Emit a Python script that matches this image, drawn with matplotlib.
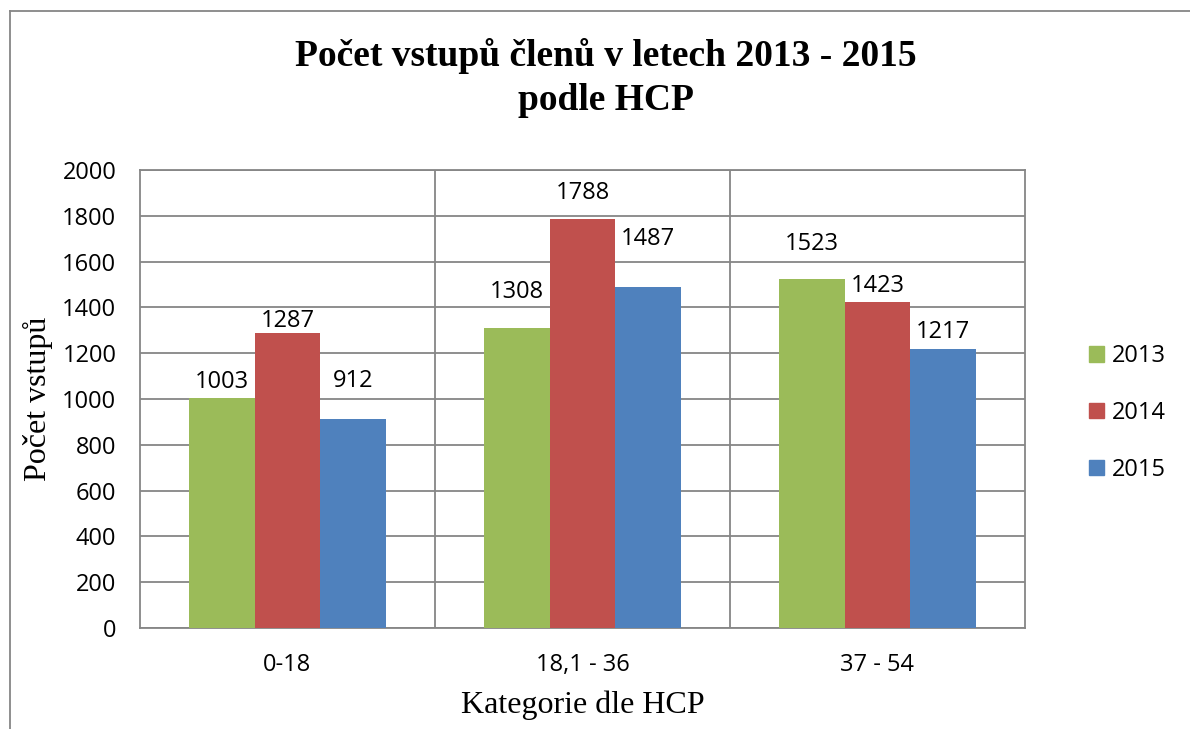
import numpy as np
import matplotlib
matplotlib.use("Agg")
import matplotlib.pyplot as plt
from matplotlib.lines import Line2D
from matplotlib.patches import Patch

categories = ["0-18", "18,1 - 36", "37 - 54"]
years = ["2013", "2014", "2015"]
values_2013 = [1003, 1308, 1523]
values_2014 = [1287, 1788, 1423]
values_2015 = [912, 1487, 1217]
y_ticks = [0, 200, 400, 600, 800, 1000, 1200, 1400, 1600, 1800, 2000]

colours = ["#9BBB59", "#C0504D", "#4F81BD"]
grid_colour = "#868686"
tick_font = "Open Sans"
serif_font = "Liberation Serif"

# label lift above bar top (pixels), as placed in the original chart
label_lift = [[16, 36, 35], [12, 26, 16], [38, 48, 17]]

fig = plt.figure(figsize=(11.9, 7.29), dpi=100)
W, H = 1190.0, 729.0
ax = fig.add_axes([140 / W, 1 - 628 / H, (1025 - 140) / W, (628 - 170) / H])

series = [values_2013, values_2014, values_2015]
x = np.arange(len(categories))
bar_w = 1.0 / 4.5
for i, vals in enumerate(series):
    pos = x + (i - 1) * bar_w
    ax.bar(pos, vals, width=bar_w, color=colours[i], zorder=3)
    for j, (px, v) in enumerate(zip(pos, vals)):
        ax.annotate(str(v), (px, v), xytext=(0, label_lift[i][j] * 0.72),
                    textcoords="offset points", ha="center", va="center",
                    fontsize=17, family=tick_font)

ax.set_xlim(-0.5, len(categories) - 0.5)
ax.set_ylim(0, 2000)
ax.set_yticks(y_ticks)
ax.set_yticklabels([str(t) for t in y_ticks], family=tick_font, fontsize=17)
ax.set_xticks(x)
ax.set_xticklabels(categories, family=tick_font, fontsize=17)
ax.tick_params(axis="both", length=0)
ax.tick_params(axis="y", pad=17)
ax.tick_params(axis="x", pad=18)

ax.yaxis.grid(True, color=grid_colour, linewidth=1.3, zorder=0)
for b in x[:-1] + 0.5:
    ax.axvline(b, color=grid_colour, linewidth=1.3, zorder=0)
for s in ax.spines.values():
    s.set_color(grid_colour)
    s.set_linewidth(1.3)

ax.set_ylabel("Počet vstupů", family=serif_font, fontsize=23)
ax.yaxis.set_label_coords((38 - 140) / (1025 - 140), 0.5)
ax.set_xlabel("Kategorie dle HCP", family=serif_font, fontsize=23)
ax.xaxis.set_label_coords(0.5, -(705 - 628) / (628 - 170))
ax.xaxis.label.set_va("center")
ax.yaxis.label.set_va("center")

fig.text(606 / W, 1 - 78 / H, "Počet vstupů členů v letech 2013 - 2015\npodle HCP",
         ha="center", va="center", family=serif_font, fontweight="bold",
         fontsize=27, linespacing=1.3)

handles = [Patch(color=c) for c in colours]
fig.legend(handles, years, loc="center left", bbox_to_anchor=(1068 / W, 1 - 413 / H),
           frameon=False, prop={"family": tick_font, "size": 17},
           handlelength=0.62, handleheight=0.62, handletextpad=0.35, labelspacing=1.38)

# outer chart border (left and top only visible)
fig.add_artist(Line2D([10 / W, 10 / W], [0, 1 - 11 / H], transform=fig.transFigure,
                      color=grid_colour, linewidth=1.3))
fig.add_artist(Line2D([10 / W, 1], [1 - 11 / H, 1 - 11 / H], transform=fig.transFigure,
                      color=grid_colour, linewidth=1.3))

fig.savefig("out.png", dpi=100)
